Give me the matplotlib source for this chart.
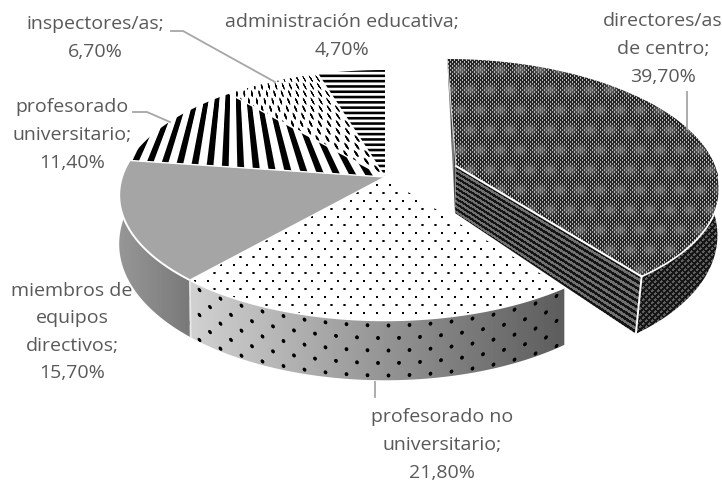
#!/usr/bin/env python3
"""Exploded 3D-look pie with black and white pattern fills, saved to out.png."""
import numpy as np
import matplotlib
matplotlib.use('Agg')
import matplotlib.pyplot as plt
from matplotlib.patches import Polygon

W, H = 722, 482

categories = ['directores/as\nde centro', 'profesorado no\nuniversitario',
              'miembros de\nequipos\ndirectivos', 'profesorado\nuniversitario',
              'inspectores/as', 'administración educativa']
values = [39.7, 21.8, 15.7, 11.4, 6.7, 4.7]

TEXT = '#595959'
LEADER = '#a6a6a6'

# perspective of the disc: hub offset, radii and foreshortening
A, C, D = 122.5, -0.145, 263.0
HUB = (385.0, 177.0)
HUB_OUT = (456.0, 166.0)
SKEW_OUT = 10.0
D_OUT = 259.0

px, py = np.meshgrid(np.arange(W) + 0.5, np.arange(H) + 0.5)


def rim(theta, hub=HUB, skew=0.0, d=D):
    # theta is clockwise from 12 o'clock, in degrees
    wx = np.sin(np.radians(theta))
    wy = -np.cos(np.radians(theta))
    den = 1 + C * wy
    return hub[0] + (d * wx + skew * wy) / den, hub[1] + A * wy / den, wy


def arc(t0, t1, hub=HUB, skew=0.0, d=D, n=120):
    return rim(np.linspace(t0, t1, n), hub, skew, d)


def wedge_poly(t0, t1, hub=HUB, skew=0.0, d=D):
    x, y, _ = arc(t0, t1, hub, skew, d)
    return np.vstack([[hub], np.column_stack([x, y])])


def wall_poly(t0, t1, hub=HUB, skew=0.0, d=D, lean=0.0):
    x, y, wy = arc(t0, t1, hub, skew, d)
    bx = x + lean * wy - (1.0 if lean else 0.0)
    by = y + 47 + 13 * wy
    return np.vstack([np.column_stack([x, y]), np.column_stack([bx, by])[::-1]])


def spots(u, v, pu, pv, rx, ry):
    # staggered soft dots; every second row is shifted half a cell
    row = np.floor(v / pv)
    du = ((u + (row % 2) * pu / 2) % pu) - pu / 2
    dv = (v % pv) - pv / 2
    return np.clip(1.6 - 1.0 * ((du / rx) ** 2 + (dv / ry) ** 2), 0, 1)


def bands(v, period, on):
    # soft-edged stripes, "on" is the width of the dark part
    d = np.abs((v % period) - period / 2)
    return np.clip(on / 2 - d + 0.5, 0, 1)


def paint(ax, tex, poly, z):
    im = ax.imshow(tex, extent=(0, W, H, 0), cmap='gray', vmin=0, vmax=255,
                   interpolation='nearest', aspect='auto', zorder=z)
    patch = Polygon(poly, closed=True, transform=ax.transData)
    im.set_clip_path(patch)


def main():
    fig = plt.figure(figsize=(W / 100, H / 100), dpi=100, facecolor='white')
    ax = fig.add_axes([0, 0, 1, 1])
    ax.set_xlim(0, W)
    ax.set_ylim(H, 0)
    ax.axis('off')

    total = sum(values)
    edges = np.concatenate([[0], np.cumsum(values) / total * 360])
    t_dir = (edges[0], edges[1])
    t_nou = (edges[1], edges[2])
    t_mie = (edges[2], edges[3])
    t_uni = (edges[3], edges[4])
    t_ins = (edges[4], edges[5])
    t_adm = (edges[5], edges[6])

    # outer walls of the main pie
    mie_wall = 150 - (px - 120) * 0.42
    paint(ax, mie_wall, wall_poly(*t_mie), 1)

    nx, ny, nwy = arc(*t_nou)
    order = np.argsort(nx)
    rim_y = np.interp(px, nx[order], ny[order])
    grad = 208 - (px - 193) * 0.312
    grad = np.clip(grad, 85, 215)
    v = py - rim_y
    side = spots(px, v + 1, 21, 12.5, 1.8, 1.9)
    paint(ax, grad * (1 - side), wall_poly(*t_nou), 2)

    # top faces
    dots = spots(px, py + 3, 13, 8, 1.15, 1.1)
    paint(ax, 255 * (1 - dots), wedge_poly(*t_nou), 3)
    paint(ax, np.full_like(px, 165.0), wedge_poly(*t_mie), 3)

    # stripes of these two slices converge on a point above the pie
    u = (px - 233) / (py + 50) * 190
    paint(ax, 255 * (1 - bands(u, 13.5, 6.0)), wedge_poly(*t_uni), 3)
    dashes = spots(u, py, 10, 7.5, 1.25, 3.2)
    paint(ax, 255 * (1 - dashes), wedge_poly(*t_ins), 3)
    paint(ax, 255 * (1 - bands(py + 1, 5.3, 2.6)), wedge_poly(*t_adm), 3)

    # white seams on the main pie
    for t in (edges[1], edges[2], edges[3], edges[4], edges[5]):
        x, y, _ = rim(t)
        ax.plot([HUB[0], x], [HUB[1], y], color='white', lw=1.0, zorder=4,
                solid_capstyle='round')
    x, y, _ = arc(edges[1], edges[3])
    ax.plot(x, y, color='white', lw=1.4, zorder=4)
    x, y, wy = rim(edges[2])
    ax.plot([x, x + 1], [y, y + 47 + 13 * wy], color='#e8e8e8', lw=1.2, zorder=4)

    # exploded slice
    mesh = (((px + py) % 4 < 1.3) | ((px - py) % 4 < 1.3))
    base = np.where(mesh, 35.0, 190.0)
    row = np.floor(py / 20)
    blob_u = ((px + (row % 2) * 10) % 20) - 10
    blob_v = (py % 20) - 10
    blob = np.exp(-(blob_u / 6.5) ** 2 - (blob_v / 5.0) ** 2)
    top = base * (1 - 0.65 * blob) + 140 * 0.65 * blob

    hub_x, hub_y = HUB_OUT
    cx, cy, cwy = rim(t_dir[1], HUB_OUT, SKEW_OUT, D_OUT)

    # flat cut wall with stripes running along its top edge
    line_y = hub_y + (px - hub_x) * (cy - hub_y) / (cx - hub_x)
    line_d = 47 + (13 * cwy) * (px - hub_x) / (cx - hub_x)
    frac = (py - line_y) / line_d
    cut = np.where((frac * 9) % 1 < 0.5, 20.0, 112.0)
    cut_poly = np.array([[hub_x, hub_y], [cx, cy],
                         [cx - 1 - 6 * cwy, cy + 47 + 13 * cwy],
                         [hub_x - 1, hub_y + 47]])
    paint(ax, cut, cut_poly, 5)

    # curved outer wall: dark woven fill
    weave = np.where(((px + py) % 6 < 2.4) & ((px - py) % 6 < 3.2), 95.0, 22.0)
    paint(ax, weave, wall_poly(55, t_dir[1], HUB_OUT, SKEW_OUT, D_OUT, lean=-6.0), 5)

    # sliver of the wall facing the gap
    tx, ty, _ = rim(0, HUB_OUT, SKEW_OUT, D_OUT)
    sliver = 70 + np.abs((px % 3) - 1.5) * 50
    paint(ax, sliver, [[tx, ty], [hub_x, hub_y], [hub_x - 1, hub_y + 47]], 5)

    paint(ax, top, wedge_poly(*t_dir, HUB_OUT, SKEW_OUT, D_OUT), 6)

    # seams on the exploded slice
    ax.plot([hub_x, cx], [hub_y, cy], color='white', lw=1.5, zorder=7)
    ax.plot([hub_x, tx], [hub_y, ty], color='#d9d9d9', lw=0.7, zorder=7)
    x, y, _ = arc(95, t_dir[1], HUB_OUT, SKEW_OUT, D_OUT)
    ax.plot(x, y, color='white', lw=1.2, zorder=7)
    ax.plot([cx, cx - 1 - 6 * cwy], [cy, cy + 47 + 13 * cwy], color='white', lw=1.4, zorder=7)

    # leader lines
    leaders = [
        ([687, 687], [92, 129]),
        ([375, 375], [382, 397]),
        ([171, 183, 275], [31, 31, 82]),
        ([133, 147, 170], [112, 112, 122]),
    ]
    for lx, ly in leaders:
        ax.plot(lx, ly, color=LEADER, lw=1.3, zorder=8)

    # data labels, in slice order
    label_pos = [(663, 49), (442, 445), (72, 332), (72, 135), (95, 38), (342, 36)]
    for name, val, (lx, ly) in zip(categories, values, label_pos):
        pct = f'{val:.2f}'.replace('.', ',')
        ax.text(lx, ly, f'{name};\n{pct}%', ha='center', va='center', color=TEXT,
                fontsize=14, family='Open Sans', linespacing=1.68, zorder=9)

    fig.savefig('out.png', dpi=100)


if __name__ == '__main__':
    main()
